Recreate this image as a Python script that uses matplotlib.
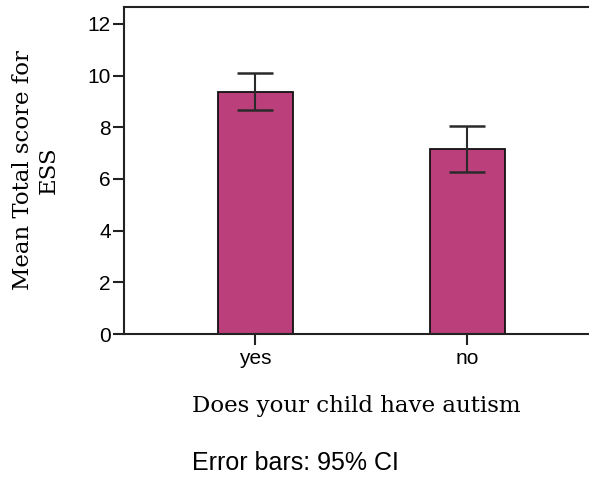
import matplotlib
matplotlib.use("Agg")
import matplotlib.pyplot as plt

# values
groups = ["yes", "no"]
means = [9.37, 7.17]
ci_low = [8.66, 6.25]
ci_high = [10.09, 8.05]

bar_color = "#BA3F7A"

fig = plt.figure(figsize=(5.89, 4.82), dpi=100)
ax = fig.add_axes([124 / 589, 1 - 334 / 482, (589 - 124) / 589, (334 - 7) / 482])

xs = list(range(len(groups)))
yerr = [[m - lo for m, lo in zip(means, ci_low)],
        [hi - m for m, hi in zip(means, ci_high)]]
ax.bar(xs, means, width=0.354, color=bar_color, edgecolor="#111111", linewidth=1.3, zorder=2)
ax.errorbar(xs, means, yerr=yerr, fmt="none", ecolor="#2a2a2a", elinewidth=1.5,
            capsize=13, capthick=1.8, zorder=3)

ax.set_xlim(-0.618, 1.575)
ax.set_ylim(0, 12.65)
ax.set_yticks([0, 2, 4, 6, 8, 10, 12])
ax.set_xticks(xs)
ax.set_xticklabels(groups)

for s in ["left", "top", "bottom"]:
    ax.spines[s].set_linewidth(1.5)
    ax.spines[s].set_color("#222222")
ax.spines["right"].set_visible(False)
ax.tick_params(axis="both", direction="out", length=8, width=1.5, color="#222222",
               labelsize=15, pad=1.5)
for lab in ax.get_xticklabels() + ax.get_yticklabels():
    lab.set_family("Liberation Sans")
ax.tick_params(axis="x", pad=3)

ax.set_xlabel("Does your child have autism", family="DejaVu Serif", fontsize=16.5, labelpad=19)
ax.set_ylabel("Mean Total score for\nESS", family="DejaVu Serif", fontsize=16.5,
              labelpad=20, linespacing=1.2)

fig.text(295 / 589, 1 - 463 / 482, "Error bars: 95% CI", family="Liberation Sans",
         fontsize=18, ha="center", va="center")

fig.savefig("out.png", dpi=100)
